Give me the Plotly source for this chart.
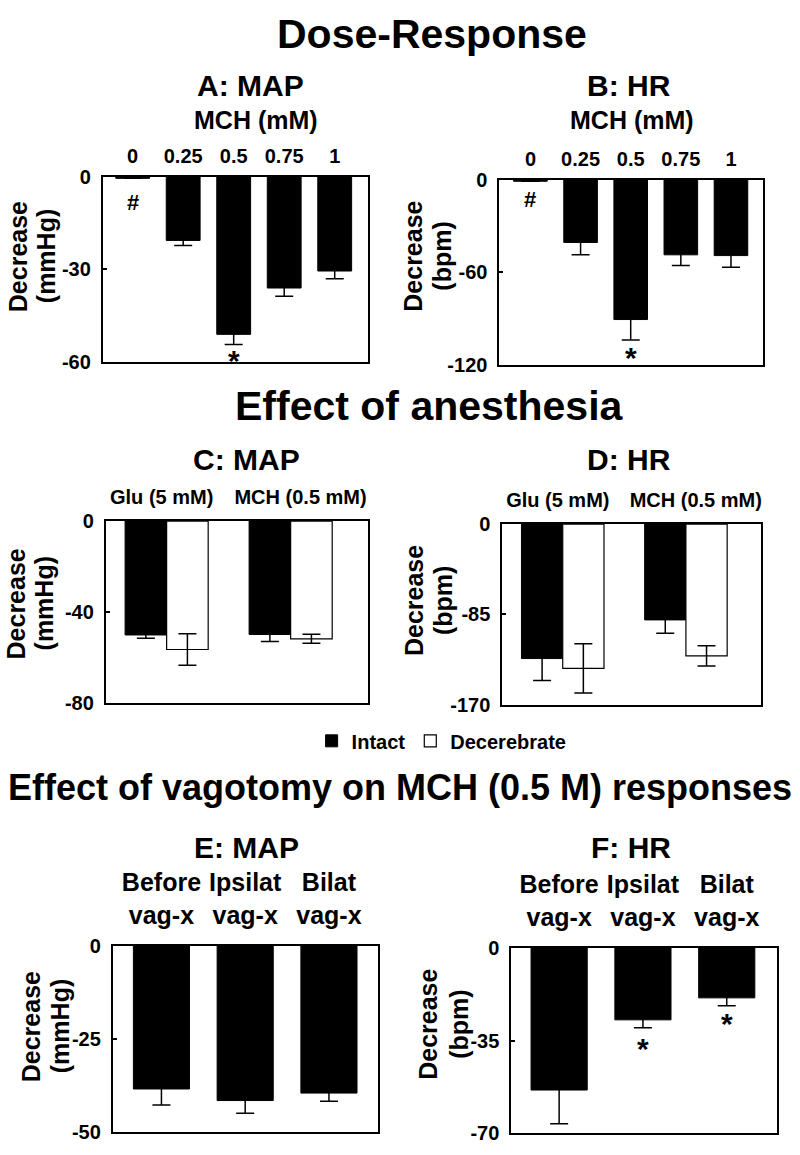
import plotly.graph_objects as go

W, H = 800, 1155
FONT = "Liberation Sans, Arial, Helvetica, sans-serif"

# ---------------- data ----------------
doses = ["0", "0.25", "0.5", "0.75", "1"]
map_dose = [-0.5, -20.6, -51.0, -36.0, -30.5]
map_dose_err = [0, 1.6, 3.3, 2.7, 2.5]
hr_dose = [-1.0, -40.6, -90.5, -48.6, -49.1]
hr_dose_err = [0, 8.0, 13.2, 7.0, 7.6]

agents = ["Glu (5 mM)", "MCH (0.5 mM)"]
map_intact = [-50.2, -50.0]
map_intact_err = [1.4, 3.1]
map_decer = [-56.6, -51.9]
map_decer_err = [6.9, 2.0]
hr_intact = [-126.7, -90.3]
hr_intact_err = [20.7, 12.6]
hr_decer = [-136.0, -124.2]
hr_decer_err = [23.2, 9.5]

vag_groups = ["Before<br>vag-x", "Ipsilat<br>vag-x", "Bilat<br>vag-x"]
map_vag = [-38.4, -41.5, -39.5]
map_vag_err = [4.3, 3.4, 2.2]
hr_vag = [-53.7, -27.2, -18.9]
hr_vag_err = [12.7, 3.0, 3.0]

y_ticks = {
    1: [0, -30, -60],
    2: [0, -60, -120],
    3: [0, -40, -80],
    4: [0, -85, -170],
    5: [0, -25, -50],
    6: [0, -35, -70],
}

# ---------------- layout geometry (pixels) ----------------
boxes = {  # left, right, top, bottom
    1: (103, 368, 169, 358),
    2: (500, 764, 172, 361),
    3: (106, 368, 520, 705),
    4: (503, 762, 523, 707),
    5: (113, 378, 953, 1143),
    6: (512, 778, 955, 1144),
}
xranges = {
    1: [-0.59, 4.65],
    2: [-0.62, 4.64],
    3: [-0.49, 1.62],
    4: [-0.49, 1.61],
    5: [-0.58, 2.58],
    6: [-0.57, 2.60],
}

fig = go.Figure()


def ax(i, c):
    return c if i == 1 else f"{c}{i}"


def err(a):
    return dict(type="data", array=a, color="black", thickness=1.5, width=9)


def black_bar(i, x, y, e, name="Intact", show=False):
    fig.add_trace(go.Bar(
        x=x, y=y, error_y=err(e), name=name, showlegend=show, legendgroup=name,
        marker=dict(color="black", line=dict(color="black", width=1)),
        xaxis=ax(i, "x"), yaxis=ax(i, "y")))


def white_bar(i, x, y, e, name="Decerebrate", show=False):
    fig.add_trace(go.Bar(
        x=x, y=y, error_y=err(e), name=name, showlegend=show, legendgroup=name,
        marker=dict(color="white", line=dict(color="black", width=1.2)),
        xaxis=ax(i, "x"), yaxis=ax(i, "y")))


idx5 = list(range(len(doses)))
idx2 = list(range(len(agents)))
idx3 = list(range(len(vag_groups)))

black_bar(1, idx5, map_dose, map_dose_err)
black_bar(2, idx5, hr_dose, hr_dose_err)
black_bar(3, idx2, map_intact, map_intact_err, show=True)
white_bar(3, idx2, map_decer, map_decer_err, show=True)
black_bar(4, idx2, hr_intact, hr_intact_err)
white_bar(4, idx2, hr_decer, hr_decer_err)
black_bar(5, idx3, map_vag, map_vag_err)
black_bar(6, idx3, hr_vag, hr_vag_err)

cat_labels = {1: doses, 2: doses, 3: agents, 4: agents, 5: vag_groups, 6: vag_groups}
cat_pos = {1: idx5, 2: idx5, 3: [-0.04, 1.08], 4: [-0.04, 1.08], 5: idx3, 6: idx3}
cat_size = {1: 20, 2: 20, 3: 20, 4: 20, 5: 25, 6: 25}
cat_standoff = {1: 4, 2: 4, 3: 7, 4: 7, 5: 10, 6: 10}
bottom_ticks = {1: idx5, 2: idx5, 3: [0.5], 4: [0.5], 5: idx3, 6: idx3}

layout_axes = {}
for i, (l, r, t, b) in boxes.items():
    xd = [l / W, r / W]
    yd = [1 - b / H, 1 - t / H]
    xn = "xaxis" if i == 1 else f"xaxis{i}"
    yn = "yaxis" if i == 1 else f"yaxis{i}"
    layout_axes[xn] = dict(
        domain=xd, anchor=ax(i, "y"), range=xranges[i], side="top",
        tickmode="array", tickvals=cat_pos[i],
        ticktext=cat_labels[i], ticks="", ticklabelstandoff=cat_standoff[i],
        tickfont=dict(size=cat_size[i], family=FONT, color="black", weight="bold"),
        showgrid=False, zeroline=False, showline=True, mirror=True,
        linecolor="black", linewidth=2, fixedrange=True)
    layout_axes[f"xaxis{i + 6}"] = dict(
        overlaying=ax(i, "x"), anchor=ax(i, "y"), side="bottom", range=xranges[i],
        type="linear", tickmode="array", tickvals=bottom_ticks[i], ticks="inside",
        ticklen=5, tickwidth=1.5, tickcolor="black", showticklabels=False,
        showgrid=False, zeroline=False, showline=False)
    yt = y_ticks[i]
    layout_axes[yn] = dict(
        domain=yd, anchor=ax(i, "x"), range=[yt[-1], yt[0]],
        tickmode="array", tickvals=yt, ticktext=[str(v) for v in yt],
        ticks="inside", ticklen=4, tickwidth=1.5, tickcolor="black",
        ticklabelstandoff=6,
        tickfont=dict(size=20, family=FONT, color="black", weight="bold"),
        showgrid=False, zeroline=False, showline=True, mirror=True,
        linecolor="black", linewidth=2)

annotations = []


def txt(text, x, y, size, angle=0):
    annotations.append(dict(
        text=text, x=x / W, y=1 - y / H, xref="paper", yref="paper",
        showarrow=False, textangle=angle, xanchor="center", yanchor="middle",
        font=dict(size=size, family=FONT, color="black", weight="bold")))


# section headings
txt("Dose-Response", 433, 23, 41)
txt("Effect of anesthesia", 430, 403, 41)
txt("Effect of vagotomy on MCH (0.5 M) responses", 400, 792, 36)

# panel titles
txt("A: MAP", 251, 76, 30)
txt("B: HR", 630, 76, 30)
txt("MCH (mM)", 256, 111, 25)
txt("MCH (mM)", 633, 111, 25)
txt("C: MAP", 247, 457, 30)
txt("D: HR", 630, 457, 30)
txt("E: MAP", 247, 853, 30)
txt("F: HR", 632, 853, 30)

# y-axis titles (two rotated lines)
ytitles = {
    1: ("Decrease", "(mmHg)", 18, 46, 250),
    2: ("Decrease", "(bpm)", 414, 443, 250),
    3: ("Decrease", "(mmHg)", 17, 45, 604),
    4: ("Decrease", "(bpm)", 414, 443, 601),
    5: ("Decrease", "(mmHg)", 31, 60, 1035),
    6: ("Decrease", "(bpm)", 429, 460, 1033),
}
for i, (l1, l2, x1, x2, yc) in ytitles.items():
    txt(l1, x1, yc, 25, -90)
    txt(l2, x2, yc, 25, -90)


# significance markers (data coordinates)
def mark(i, sym, x, y, shift, size):
    annotations.append(dict(
        text=sym, x=x, y=y, xref=ax(i, "x"), yref=ax(i, "y"), showarrow=False,
        xanchor="center", yanchor="top", yshift=shift,
        font=dict(size=size, family=FONT, color="black", weight="bold")))


mark(1, "#", 0, map_dose[0], -10, 22)
mark(2, "#", 0, hr_dose[0], -4, 22)
mark(1, "*", 2, map_dose[2] - map_dose_err[2], 3, 30)
mark(2, "*", 2, hr_dose[2] - hr_dose_err[2], 1, 30)
mark(6, "*", 1, hr_vag[1] - hr_vag_err[1], -2, 30)
mark(6, "*", 2, hr_vag[2] - hr_vag_err[2], 1, 30)

fig.update_layout(
    width=W, height=H, margin=dict(l=0, r=0, t=0, b=0),
    paper_bgcolor="white", plot_bgcolor="white",
    barmode="group", bargap=0.33, bargroupgap=0,
    showlegend=True,
    legend=dict(orientation="h", x=312 / W, xanchor="left", y=1 - 744 / H,
                yanchor="middle", font=dict(size=20, family=FONT, color="black",
                                            weight="bold"),
                itemwidth=30, tracegroupgap=0, bgcolor="rgba(0,0,0,0)"),
    annotations=annotations,
    **layout_axes,
)

fig.write_html("out.html", config={"displayModeBar": False},
               post_script="document.body.style.margin='0px';")
